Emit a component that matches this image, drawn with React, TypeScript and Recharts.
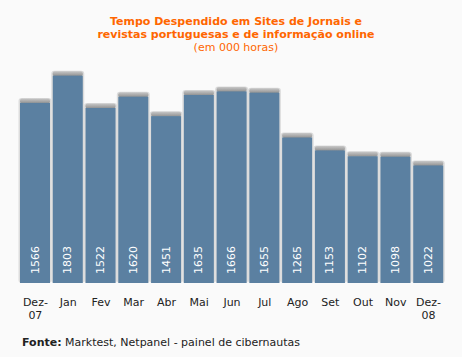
import React from 'react';
import { BarChart, Bar, XAxis, YAxis, LabelList } from 'recharts';

const months = ['Dez-07', 'Jan', 'Fev', 'Mar', 'Abr', 'Mai', 'Jun', 'Jul', 'Ago', 'Set', 'Out', 'Nov', 'Dez-08'];
const hours = [1566, 1803, 1522, 1620, 1451, 1635, 1666, 1655, 1265, 1153, 1102, 1098, 1022];

const data = months.map((m, i) => ({ month: m, value: hours[i] }));

const COLORS = {
  bg: '#fafafa',
  bar: '#5b80a1',
  title: '#ff6600',
  text: '#222222',
};

const FONT = '"DejaVu Sans", Verdana, sans-serif';

// bar with grey cap on top and a faint halo
const CappedBar = (props: any) => {
  const { x, y, width, height } = props;
  if (!height || height <= 0) return null;
  return (
    <g>
      <rect x={x - 1.5} y={y - 5} width={width + 3} height={height + 5} rx={3} fill="#dcdcdc" />
      <rect x={x} y={y - 4.5} width={width} height={5} rx={2} fill="url(#capGrad)" />
      <rect x={x} y={y} width={width} height={height} fill={COLORS.bar} />
    </g>
  );
};

const ValueLabel = (props: any) => {
  const { x, y, width, height, value } = props;
  const cx = x + width / 2;
  const cy = y + height - 23;
  return (
    <text
      x={cx}
      y={cy}
      transform={`rotate(-90 ${cx} ${cy})`}
      textAnchor="middle"
      dominantBaseline="central"
      fill="#ffffff"
      fontSize={11}
      fontFamily={FONT}
    >
      {value}
    </text>
  );
};

const MonthTick = (props: any) => {
  const { x, y, payload } = props;
  const v: string = payload.value;
  const parts = v.includes('-') ? [v.split('-')[0] + '-', v.split('-')[1]] : [v];
  return (
    <g>
      {parts.map((p, i) => (
        <text
          key={i}
          x={x}
          y={y + 15 + i * 13}
          textAnchor="middle"
          fill={COLORS.text}
          fontSize={11}
          fontFamily={FONT}
        >
          {p}
        </text>
      ))}
    </g>
  );
};

export default function App() {
  return (
    <div
      style={{
        position: 'absolute',
        left: 0,
        top: 0,
        width: 462,
        height: 357,
        background: COLORS.bg,
        fontFamily: FONT,
      }}
    >
      <div
        style={{
          position: 'absolute',
          top: 15,
          left: 0,
          width: 472,
          textAlign: 'center',
          color: COLORS.title,
          fontSize: 11,
          lineHeight: '13px',
        }}
      >
        <div style={{ fontWeight: 'bold' }}>Tempo Despendido em Sites de Jornais e</div>
        <div style={{ fontWeight: 'bold' }}>revistas portuguesas e de informação online</div>
        <div>(em 000 horas)</div>
      </div>
      <BarChart
        width={462}
        height={357}
        data={data}
        margin={{ top: 53, right: 17, bottom: 44, left: 19 }}
        style={{ position: 'absolute', left: 0, top: 0 }}
      >
        <defs>
          <linearGradient id="capGrad" x1="0" y1="0" x2="0" y2="1">
            <stop offset="0%" stopColor="#c8c8c8" />
            <stop offset="100%" stopColor="#8f8f8f" />
          </linearGradient>
        </defs>
        <XAxis
          dataKey="month"
          axisLine={false}
          tickLine={false}
          interval={0}
          height={30}
          tick={<MonthTick />}
        />
        <YAxis hide domain={[0, 2000]} />
        <Bar dataKey="value" barSize={30} shape={<CappedBar />} isAnimationActive={false}>
          <LabelList dataKey="value" content={<ValueLabel />} />
        </Bar>
      </BarChart>
      <div
        style={{
          position: 'absolute',
          left: 22,
          top: 336,
          fontSize: 11,
          color: COLORS.text,
          whiteSpace: 'nowrap',
        }}
      >
        <b>Fonte:</b> Marktest, Netpanel - painel de cibernautas
      </div>
    </div>
  );
}
